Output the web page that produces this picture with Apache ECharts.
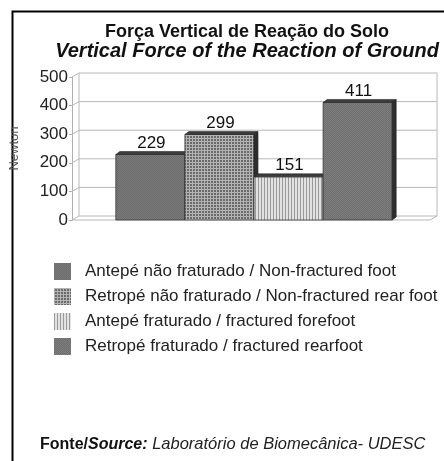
<!DOCTYPE html>
<html>
<head>
<meta charset="utf-8">
<script src="https://cdn.jsdelivr.net/npm/echarts@6/dist/echarts.min.js"></script>
<style>
  html, body { margin: 0; padding: 0; background: #fff; }
  #main { width: 444px; height: 461px; }
</style>
</head>
<body>
<div id="main"></div>
<script>
// data
const seriesNames = [
  'Antepé não fraturado / Non-fractured foot',
  'Retropé não fraturado / Non-fractured rear foot',
  'Antepé fraturado / fractured forefoot',
  'Retropé fraturado / fractured rearfoot'
];
const values = [229, 299, 151, 411];
const yTicks = [0, 100, 200, 300, 400, 500];

const chartDom = document.getElementById('main');
const myChart = echarts.init(chartDom);

// little canvas tiles for the hatch fills
function tile(w, h, draw) {
  const c = document.createElement('canvas');
  c.width = w; c.height = h;
  draw(c.getContext('2d'));
  return { image: c, repeat: 'repeat' };
}
const patterns = [
  tile(2, 2, function (g) {
    g.fillStyle = '#7a7a7a'; g.fillRect(0, 0, 2, 2);
    g.fillStyle = '#6c6c6c'; g.fillRect(0, 0, 1, 1); g.fillRect(1, 1, 1, 1);
  }),
  tile(3, 3, function (g) {
    g.fillStyle = '#6a6a6a'; g.fillRect(0, 0, 3, 3);
    g.fillStyle = '#b4b4b4'; g.fillRect(0, 0, 3, 1); g.fillRect(0, 0, 1, 3);
  }),
  tile(3, 1, function (g) {
    g.fillStyle = '#e2e2e2'; g.fillRect(0, 0, 3, 1);
    g.fillStyle = '#9a9a9a'; g.fillRect(0, 0, 1, 1);
  }),
  tile(2, 2, function (g) {
    g.fillStyle = '#7e7e7e'; g.fillRect(0, 0, 2, 2);
    g.fillStyle = '#6e6e6e'; g.fillRect(1, 0, 1, 1); g.fillRect(0, 1, 1, 1);
  })
];

const DX = 7, DY = 4;   // depth of the back wall
const BX = 4, BY = 3;   // depth of the bars

function wallItem(params, api) {
  const cs = params.coordSys;
  const v = api.value(1);
  const p = api.coord([0, v]);
  const x1 = cs.x, x2 = cs.x + cs.width;
  const ls = { stroke: '#b8b8b8', lineWidth: 1 };
  const kids = [
    { type: 'line', shape: { x1: x1 + DX, y1: p[1] - DY, x2: x2 + DX, y2: p[1] - DY }, style: ls },
    { type: 'line', shape: { x1: x1, y1: p[1], x2: x1 + DX, y2: p[1] - DY }, style: ls }
  ];
  if (params.dataIndex === 0) {
    const top = api.coord([0, yTicks[yTicks.length - 1]])[1];
    kids.push(
      { type: 'line', shape: { x1: x1, y1: p[1], x2: x2, y2: p[1] }, style: ls },
      { type: 'line', shape: { x1: x2, y1: p[1], x2: x2 + DX, y2: p[1] - DY }, style: ls },
      { type: 'line', shape: { x1: x1 + DX, y1: top - DY, x2: x1 + DX, y2: p[1] - DY }, style: ls },
      { type: 'line', shape: { x1: x2 + DX, y1: top - DY, x2: x2 + DX, y2: p[1] - DY }, style: ls }
    );
  }
  return { type: 'group', children: kids };
}

function barItem(i) {
  return function (params, api) {
    const v = api.value(1);
    const base = api.coord([0, 0]);
    const top = api.coord([0, v]);
    const band = api.size([1, 0])[0];
    const w = band * 0.772 / 4;
    const x0 = base[0] - 2 * w + i * w + 3;
    const y0 = top[1], yb = base[1];
    return {
      type: 'group',
      children: [
        { type: 'rect', shape: { x: x0, y: y0, width: w, height: yb - y0 },
          style: { fill: patterns[i], stroke: '#3a3a3a', lineWidth: 0.8 } },
        { type: 'polygon', shape: { points: [[x0, y0], [x0 + BX, y0 - BY], [x0 + w + BX, y0 - BY], [x0 + w, y0]] },
          style: { fill: '#3c3c3c', stroke: '#2a2a2a', lineWidth: 0.6 } },
        { type: 'polygon', shape: { points: [[x0 + w, y0], [x0 + w + BX, y0 - BY], [x0 + w + BX, yb - BY], [x0 + w, yb]] },
          style: { fill: '#2e2e2e', stroke: '#222', lineWidth: 0.6 } },
        { type: 'text', style: { text: String(v), x: x0 + w / 2 + 1, y: y0 - BY,
          align: 'center', verticalAlign: 'bottom',
          font: '17px "Liberation Sans", Arial, sans-serif', fill: '#111' } }
      ]
    };
  };
}

const option = {
  backgroundColor: '#fff',
  animation: false,
  title: {
    text: 'Força Vertical de Reação do Solo',
    subtext: 'Vertical Force of the Reaction of Ground',
    left: 247,
    top: 23,
    textAlign: 'center',
    itemGap: 0,
    padding: 0,
    textStyle: { fontFamily: 'Liberation Sans', fontSize: 18, fontWeight: 'bold', color: '#111' },
    subtextStyle: { fontFamily: 'Liberation Sans', fontSize: 20, fontWeight: 'bold', fontStyle: 'italic', color: '#111' }
  },
  legend: {
    orient: 'vertical',
    left: 54,
    top: 263,
    padding: 0,
    itemWidth: 17,
    itemHeight: 17,
    itemGap: 8,
    icon: 'rect',
    data: seriesNames,
    textStyle: { fontFamily: 'Liberation Sans', fontSize: 17, color: '#222', padding: [0, 0, 0, 9] }
  },
  grid: { left: 70, right: 14, top: 77, bottom: 241 },
  xAxis: {
    type: 'category',
    data: [''],
    axisLine: { show: false },
    axisTick: { show: false },
    axisLabel: { show: false }
  },
  yAxis: {
    type: 'value',
    min: 0,
    max: 500,
    interval: 100,
    name: 'Newton',
    nameLocation: 'middle',
    nameRotate: 90,
    nameGap: 51,
    nameTextStyle: { fontFamily: 'Liberation Sans', fontSize: 13, color: '#555' },
    axisLine: { show: true, lineStyle: { color: '#b0b0b0' } },
    axisTick: { show: true, length: 3, lineStyle: { color: '#b0b0b0' } },
    axisLabel: { fontFamily: 'Liberation Sans', fontSize: 17, color: '#222', margin: 4 },
    splitLine: { show: false }
  },
  graphic: [
    { type: 'rect', shape: { x: 12.5, y: 11.5, width: 500, height: 500 },
      style: { fill: 'none', stroke: '#000', lineWidth: 2 }, silent: true },
    { type: 'text', left: 40, top: 436,
      style: {
        text: '{b|Fonte/}{bi|Source:}{i| Laboratório de Biomecânica- UDESC}',
        rich: {
          b: { fontFamily: 'Liberation Sans', fontSize: 16, fontWeight: 'bold', fill: '#111' },
          bi: { fontFamily: 'Liberation Sans', fontSize: 16, fontWeight: 'bold', fontStyle: 'italic', fill: '#111' },
          i: { fontFamily: 'Liberation Sans', fontSize: 16.5, fontStyle: 'italic', fill: '#222' }
        }
      } }
  ],
  series: [
    {
      name: 'wall',
      type: 'custom',
      z: 1,
      silent: true,
      renderItem: wallItem,
      data: yTicks.map(function (v) { return [0, v]; })
    }
  ].concat(seriesNames.map(function (name, i) {
    return {
      name: name,
      type: 'custom',
      z: 2 + i,
      itemStyle: { color: patterns[i] },
      renderItem: barItem(i),
      data: [[0, values[i]]]
    };
  }))
};

option && myChart.setOption(option);
</script>
</body>
</html>
